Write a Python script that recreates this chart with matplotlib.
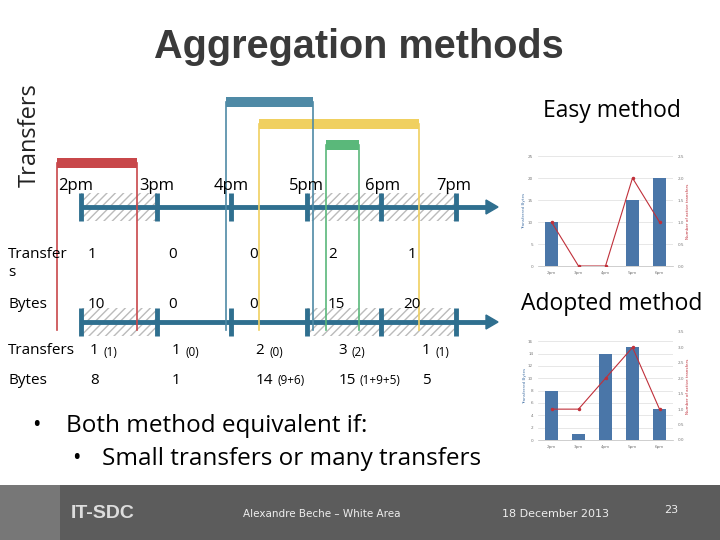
import matplotlib
matplotlib.use("Agg")
import matplotlib.pyplot as plt
from matplotlib.patches import Rectangle, FancyArrow

hours = ["2pm", "3pm", "4pm", "5pm", "6pm", "7pm"]
easy_transfers = ["1", "0", "0", "2", "1"]
easy_bytes = ["10", "0", "0", "15", "20"]
adopt_transfers = ["1", "1", "2", "3", "1"]
adopt_transfers_note = ["(1)", "(0)", "(0)", "(2)", "(1)"]
adopt_bytes = ["8", "1", "14", "15", "5"]
adopt_bytes_note = ["", "", "(9+6)", "(1+9+5)", ""]
easy_bytes_v = [10, 0, 0, 15, 20]
easy_tr_v = [1, 0, 0, 2, 1]
adopt_bytes_v = [8, 1, 14, 15, 5]
adopt_tr_v = [1, 1, 2, 3, 1]
# transfers: (start, end, colour, height)
transfers = [(57, 137, "#c8474a", 163), (226, 313, "#4f8aa6", 102),
             (259, 419, "#f0d060", 124), (326, 359, "#5ab87a", 145)]

BLUE = "#2f6f8f"
fig = plt.figure(figsize=(7.2, 5.4), dpi=100)
ax = fig.add_axes([0, 0, 1, 1])
ax.set_xlim(0, 720); ax.set_ylim(540, 0); ax.axis("off")

ax.text(359, 47, "Aggregation methods", ha="center", va="center", fontsize=28.5,
        fontweight="bold", color="#3a3a3a", family="Liberation Sans")
ax.text(30, 135, "Transfers", rotation=90, ha="center", va="center", fontsize=17, color="#222", family="Open Sans")

tick_x = [81, 157, 231, 307, 381, 456]
label_cx = [76, 157, 231, 306, 383, 454]
hatched = [(0, 1), (3, 4), (4, 5)]
for ly in (207, 322):
    for a, b in hatched:
        ax.add_patch(Rectangle((tick_x[a], ly - 14), tick_x[b] - tick_x[a], 28, fill=False,
                               hatch="////", edgecolor="#bbbbbb", lw=0))
    ax.plot([tick_x[0], 488], [ly, ly], color=BLUE, lw=3.5, solid_capstyle="butt")
    ax.add_patch(FancyArrow(486, ly, 12, 0, width=1, head_width=14, head_length=12,
                            color=BLUE, length_includes_head=True))
    for x in tick_x:
        ax.plot([x, x], [ly - 14, ly + 14], color=BLUE, lw=3.5, solid_capstyle="butt")
for x, h in zip(label_cx, hours):
    ax.text(x, 186, h, ha="center", va="center", fontsize=12, family="Open Sans")

for s, e, c, h in transfers:
    ax.add_patch(Rectangle((s, h - 5), e - s, 10, facecolor=c, edgecolor=c, hatch="....", lw=0))
    ax.plot([s, s], [h, 330], color=c, lw=1.2)
    ax.plot([e, e], [h, 330], color=c, lw=1.2)

ax.text(8, 254, "Transfer", fontsize=11, va="center", family="Open Sans")
ax.text(8, 273, "s", fontsize=11, va="center", family="Open Sans")
ax.text(8, 304, "Bytes", fontsize=11, va="center", family="Open Sans")
val_x = [88, 168, 249, 328, 403]
for i in range(5):
    ax.text(val_x[i] + (5 if easy_transfers[i] != "0" and i == 4 else 0), 254, easy_transfers[i], fontsize=11, va="center", family="Open Sans")
    ax.text(val_x[i], 304, easy_bytes[i], fontsize=11, va="center", family="Open Sans")

ax.text(8, 351, "Transfers", fontsize=11, va="center", family="Open Sans")
ax.text(8, 380, "Bytes", fontsize=11, va="center", family="Open Sans")
ax2x = [90, 172, 256, 339, 422]
for i in range(5):
    ax.text(ax2x[i], 351, adopt_transfers[i] + " ", fontsize=11, va="center", family="Open Sans")
    ax.text(ax2x[i] + 13, 352, adopt_transfers_note[i], fontsize=8.5, va="center", family="Open Sans")
    ax.text(ax2x[i], 380, adopt_bytes[i], fontsize=11, va="center", family="Open Sans")
    ax.text(ax2x[i] + 8 * len(adopt_bytes[i]) + 5, 381, adopt_bytes_note[i], fontsize=8.5, va="center", family="Open Sans")

ax.text(32, 426, "•", fontsize=16.5, va="center", family="Open Sans")
ax.text(66, 426, "Both method equivalent if:", fontsize=17.5, va="center", family="Open Sans")
ax.text(72, 459, "•", fontsize=16.5, va="center", family="Open Sans")
ax.text(102, 459, "Small transfers or many transfers", fontsize=17.5, va="center", family="Open Sans")

ax.text(612, 111, "Easy method", ha="center", va="center", fontsize=16.5, family="Open Sans")
ax.text(612, 304, "Adopted method", ha="center", va="center", fontsize=16.5, family="Open Sans")

# footer
ax.add_patch(Rectangle((0, 485), 720, 55, facecolor="#5c5c5c", lw=0))
ax.add_patch(Rectangle((0, 485), 60, 55, facecolor="#777777", lw=0))
ax.text(103, 514, "IT-SDC", ha="center", va="center", fontsize=14, color="#dddddd",
        family="Liberation Sans", fontweight="bold")
ax.text(322, 514, "Alexandre Beche – White Area", ha="center", va="center", fontsize=7.5, color="#eeeeee")
ax.text(556, 514, "18 December 2013", ha="center", va="center", fontsize=8, color="#eeeeee")
ax.text(671, 510, "23", ha="center", va="center", fontsize=8, color="#eeeeee")

def small_chart(rect, bars, line, ymax, rmax):
    a = fig.add_axes(rect)
    x = range(5)
    a.bar(x, bars, width=0.45, color="#4a76a8")
    a.set_ylim(0, ymax)
    a.set_xlim(-0.5, 4.5)
    a.set_xticks(list(x)); a.set_xticklabels(hours[:5], fontsize=3, color="#777")
    a.tick_params(labelsize=3, colors="#777", length=0)
    a.yaxis.grid(True, color="#dddddd", lw=0.5); a.set_axisbelow(True)
    for s in a.spines.values(): s.set_visible(False)
    a.spines["bottom"].set_visible(True); a.spines["bottom"].set_color("#bbb"); a.spines["bottom"].set_linewidth(0.5)
    a.set_ylabel("Transferred Bytes", fontsize=3, color="#4a76a8", labelpad=1)
    b = a.twinx()
    b.plot(list(x), line, color="#c0303a", lw=0.8, marker="o", ms=1.5)
    b.set_ylim(0, rmax)
    b.tick_params(labelsize=3, colors="#777", length=0)
    for s in b.spines.values(): s.set_visible(False)
    b.set_ylabel("Number of active transfers", fontsize=3, color="#c0303a", labelpad=1)

small_chart([538 / 720, 1 - 266 / 540, 135 / 720, 110 / 540], easy_bytes_v, easy_tr_v, 25, 2.5)
small_chart([538 / 720, 1 - 440 / 540, 135 / 720, 108 / 540], adopt_bytes_v, adopt_tr_v, 17.5, 3.5)

fig.savefig("out.png", dpi=100)
